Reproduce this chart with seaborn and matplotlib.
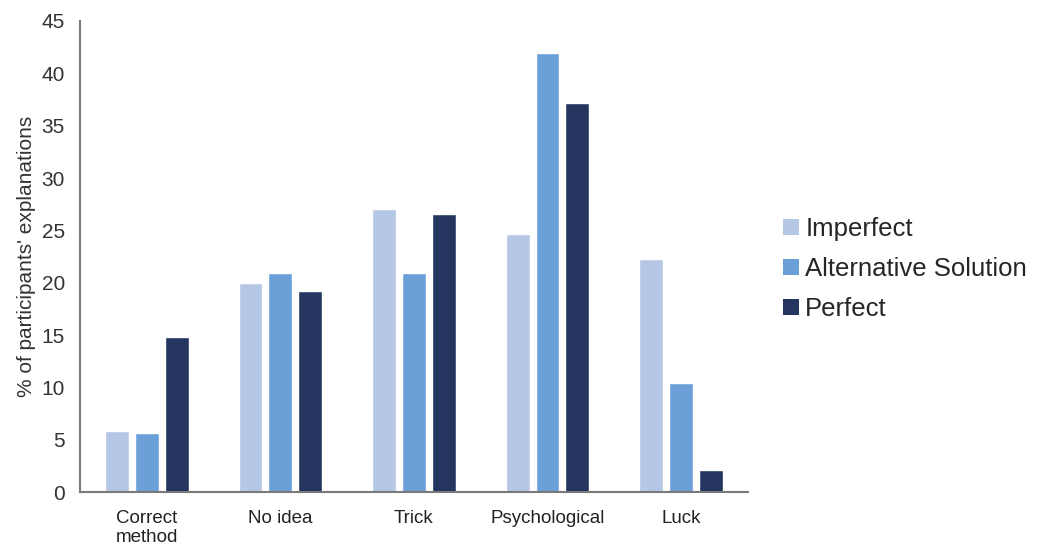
import matplotlib
matplotlib.use("Agg")
import matplotlib.pyplot as plt
import seaborn as sns
import pandas as pd

categories = ["Correct\nmethod", "No idea", "Trick", "Psychological", "Luck"]
series_names = ["Imperfect", "Alternative Solution", "Perfect"]
imperfect = [5.8, 20.0, 27.0, 24.7, 22.3]
alternative = [5.7, 20.9, 20.9, 41.9, 10.4]
perfect = [14.8, 19.2, 26.6, 37.2, 2.1]
y_ticks = [0, 5, 10, 15, 20, 25, 30, 35, 40, 45]

colors = ["#b6c7e5", "#6a9fd8", "#24365f"]

rows = []
for name, vals in zip(series_names, [imperfect, alternative, perfect]):
    for cat, v in zip(categories, vals):
        rows.append({"category": cat, "series": name, "value": v})
df = pd.DataFrame(rows)

sns.set_style("white")
plt.rcParams["font.family"] = ["Liberation Sans", "DejaVu Sans"]

fig = plt.figure(figsize=(10.4, 5.5), dpi=100)
ax = fig.add_axes([0.077, 0.105, 0.642, 0.857])

sns.barplot(data=df, x="category", y="value", hue="series",
            order=categories, hue_order=series_names, palette=colors,
            width=0.67, gap=0.2, saturation=1, ax=ax, legend=False)

ax.set_xlim(-0.5, 4.5)
ax.set_ylim(0, 45)
ax.set_yticks(y_ticks)
ax.set_yticklabels([str(t) for t in y_ticks], fontsize=15, color="#333333")
ax.set_xticks(range(len(categories)))
ax.set_xticklabels(categories, fontsize=13.5, color="#222222", linespacing=1.15)
ax.tick_params(axis="x", length=0, pad=13)
ax.tick_params(axis="y", length=0, pad=11)
ax.set_xlabel("")
ax.set_ylabel("% of participants' explanations", fontsize=15, color="#333333", labelpad=4)

for side in ["top", "right"]:
    ax.spines[side].set_visible(False)
for side in ["left", "bottom"]:
    ax.spines[side].set_color("#7a7a7a")
    ax.spines[side].set_linewidth(1.5)

handles = [plt.Rectangle((0, 0), 1, 1, facecolor=c, edgecolor="none") for c in colors]
fig.legend(handles, series_names, loc="center left", bbox_to_anchor=(0.731, 0.511),
           frameon=False, fontsize=18.5, handlelength=0.6, handleheight=0.6,
           handletextpad=0.25, labelspacing=0.62)

fig.savefig("out.png", dpi=100, facecolor="white")
